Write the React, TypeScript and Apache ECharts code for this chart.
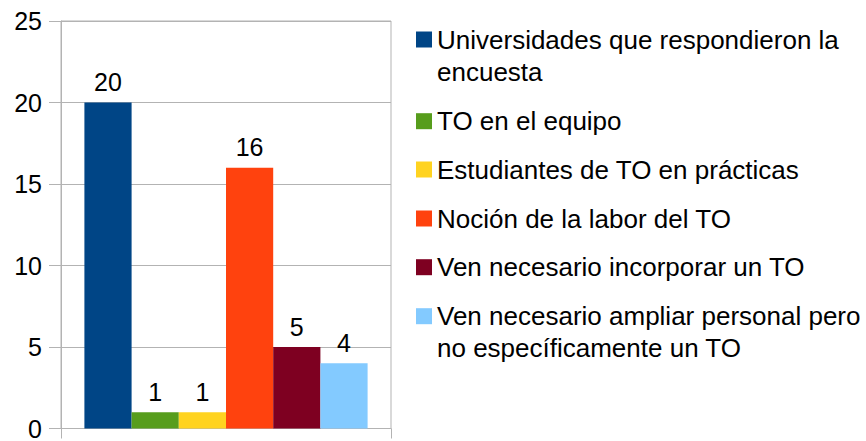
import React, { useEffect, useRef } from "react";
import * as echarts from "echarts";

const categories = [""];
const seriesNames = [
  "Universidades que respondieron la encuesta",
  "TO en el equipo",
  "Estudiantes de TO en prácticas",
  "Noción de la labor del TO",
  "Ven necesario incorporar un TO",
  "Ven necesario ampliar personal pero no específicamente un TO",
];
const legendLabels = [
  "Universidades que respondieron la\nencuesta",
  "TO en el equipo",
  "Estudiantes de TO en prácticas",
  "Noción de la labor del TO",
  "Ven necesario incorporar un TO",
  "Ven necesario ampliar personal pero\nno específicamente un TO",
];
const values = [20, 1, 1, 16, 5, 4];
const colors = ["#004586", "#579d1c", "#ffd320", "#ff420e", "#7e0021", "#83caff"];
const yTicks = { min: 0, max: 25, interval: 5 };

const FONT = "'Liberation Sans', Arial, sans-serif";
const legendTops = [-8.5, 105.2, 153.5, 202.5, 251.2, 268.2];

export default function App() {
  const ref = useRef<HTMLDivElement>(null);
  useEffect(() => {
    if (!ref.current) return;
    const chart = echarts.init(ref.current, null, { renderer: "svg" });
    const option: any = {
      animation: false,
      backgroundColor: "#ffffff",
      textStyle: { fontFamily: FONT },
      grid: {
        left: 61,
        right: 475,
        top: 21,
        bottom: 9.5,
        show: true,
        borderColor: "#b3b3b3",
        borderWidth: 1,
        containLabel: false,
      },
      xAxis: {
        type: "category",
        data: categories,
        axisLine: { show: true, lineStyle: { color: "#b3b3b3" } },
        axisTick: { show: true, length: 10, lineStyle: { color: "#b3b3b3" } },
        axisLabel: { show: false },
      },
      yAxis: {
        type: "value",
        min: yTicks.min,
        max: yTicks.max,
        interval: yTicks.interval,
        axisLine: { show: true, lineStyle: { color: "#b3b3b3" } },
        axisTick: { show: true, length: 12, lineStyle: { color: "#b3b3b3" } },
        splitLine: { show: true, lineStyle: { color: "#b3b3b3" } },
        axisLabel: { color: "#000", fontSize: 25, fontFamily: FONT, margin: 19 },
      },
      legend: seriesNames.map((name, i) => {
        const multi = legendLabels[i].includes("\n");
        return {
          data: [{ name, icon: "rect" }],
          left: 416,
          top: legendTops[i],
          padding: 0,
          itemWidth: 16,
          itemHeight: 16,
          selectedMode: false,
          formatter: () => (multi ? "\n" + legendLabels[i] : legendLabels[i]),
          textStyle: {
            color: "#000",
            fontSize: 26,
            lineHeight: 32,
            fontFamily: FONT,
          },
        };
      }),
      series: seriesNames.map((name, i) => ({
        name,
        type: "bar",
        data: [values[i]],
        barWidth: 47.2,
        barGap: "0%",
        itemStyle: { color: colors[i] },
        label: {
          show: true,
          position: "top",
          distance: 8,
          color: "#000",
          fontSize: 25,
          fontFamily: FONT,
        },
      })),
    };
    chart.setOption(option);
    return () => chart.dispose();
  }, []);
  return (
    <div
      ref={ref}
      style={{ position: "fixed", left: 0, top: 0, width: 866, height: 441 }}
    />
  );
}
